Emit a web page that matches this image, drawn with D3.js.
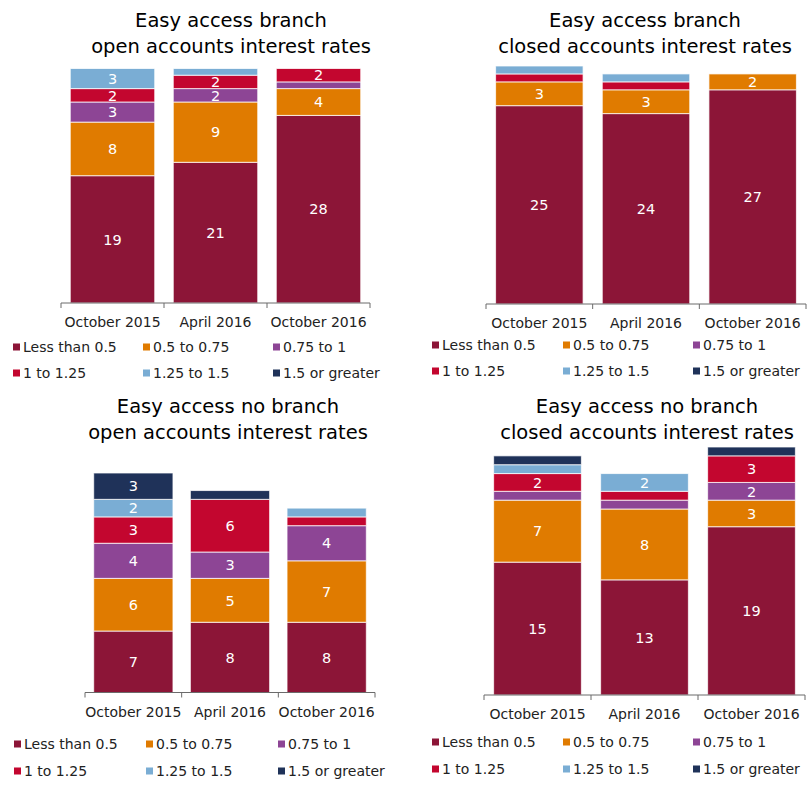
<!DOCTYPE html>
<html>
<head>
<meta charset="utf-8">
<script src="https://cdn.jsdelivr.net/npm/d3@7"></script>
<style>
    body { margin: 0; background: #fff; }
    text { font-family: "DejaVu Sans", Verdana, sans-serif; }
</style>
</head>
<body>
<script>

var periods = ["October 2015", "April 2016", "October 2016"];
var rateBands = ["Less than 0.5", "0.5 to 0.75", "0.75 to 1", "1 to 1.25", "1.25 to 1.5", "1.5 or greater"];
var bandColours = ["#8C1537", "#E07B00", "#8D4595", "#C3062F", "#7AADD4", "#1F3259"];

// one row per period, one value per rate band
var branchOpen = [[19, 8, 3, 2, 3, 0], [21, 9, 2, 2, 1, 0], [28, 4, 1, 2, 0, 0]];
var branchClosed = [[25, 3, 0, 1, 1, 0], [24, 3, 0, 1, 1, 0], [27, 2, 0, 0, 0, 0]];
var noBranchOpen = [[7, 6, 4, 3, 2, 3], [8, 5, 3, 6, 0, 1], [8, 7, 4, 1, 1, 0]];
var noBranchClosed = [[15, 7, 1, 2, 1, 1], [13, 8, 1, 1, 2, 0], [19, 3, 2, 3, 0, 1]];

var svg = d3.select("body").append("svg")
    .attr("width", 812)
    .attr("height", 789);

var panels = [
    {data: branchOpen, title: ["Easy access branch", "open accounts interest rates"], titleX: 231, titleY: 27,
     left: 61, right: 370, base: 303, top: 68.5, labelY: 327, legendX: [13, 143, 273], legendY: [347, 373]},
    {data: branchClosed, title: ["Easy access branch", "closed accounts interest rates"], titleX: 645, titleY: 27,
     left: 486, right: 806, base: 304, top: 66, labelY: 328, legendX: [432, 563, 693], legendY: [345, 371]},
    {data: noBranchOpen, title: ["Easy access no branch", "open accounts interest rates"], titleX: 228, titleY: 413,
     left: 85, right: 375, base: 692.5, top: 473, labelY: 717, legendX: [14, 146, 278], legendY: [744, 771]},
    {data: noBranchClosed, title: ["Easy access no branch", "closed accounts interest rates"], titleX: 647, titleY: 413,
     left: 484, right: 805, base: 695, top: 447, labelY: 719, legendX: [432, 563, 693], legendY: [742, 769]}
];

function drawPanel(p){

    var g = svg.append("g");

    g.append("text")
        .attr("x", p.titleX)
        .attr("y", p.titleY)
        .attr("text-anchor", "middle")
        .style("font-size", "19.5px")
        .style("fill", "#000")
        .selectAll("tspan")
        .data(p.title)
        .enter().append("tspan")
        .attr("x", p.titleX)
        .attr("dy", function(d, i){ return i == 0 ? 0 : 26; })
        .text(function(d){ return d; });

    var maxTotal = d3.max(p.data, function(row){ return d3.sum(row); });

    var x = d3.scaleBand()
        .domain(periods)
        .range([p.left, p.right])
        .paddingInner(0.18)
        .paddingOuter(0.09);

    var y = d3.scaleLinear()
        .domain([0, maxTotal])
        .range([p.base, p.top]);

    var stack = d3.stack().keys(d3.range(rateBands.length));
    var series = stack(p.data);

    var layers = g.selectAll("g.layer")
        .data(series)
        .enter().append("g")
        .attr("class", "layer")
        .attr("fill", function(d){ return bandColours[d.key]; });

    layers.selectAll("rect")
        .data(function(d){ return d.filter(function(s){ return s[1] > s[0]; }); })
        .enter().append("rect")
        .attr("x", function(d){ return x(periods[p.data.indexOf(d.data)]); })
        .attr("width", x.bandwidth())
        .attr("y", function(d){ return y(d[1]); })
        .attr("height", function(d){ return y(d[0]) - y(d[1]); })
        .attr("stroke", "#fff")
        .attr("stroke-opacity", 0.75)
        .attr("stroke-width", 1);

    // values of 2 or more get a label in the middle of the segment
    layers.selectAll("text")
        .data(function(d){ return d.filter(function(s){ return s[1] - s[0] >= 2; }); })
        .enter().append("text")
        .attr("x", function(d){ return x(periods[p.data.indexOf(d.data)]) + x.bandwidth() / 2; })
        .attr("y", function(d){ return (y(d[0]) + y(d[1])) / 2; })
        .attr("dy", "0.36em")
        .attr("text-anchor", "middle")
        .style("font-size", "14.5px")
        .style("fill", "#fff")
        .text(function(d){ return d[1] - d[0]; });

    // category axis, ticks sit between the bars
    var axis = g.append("g");
    axis.append("line")
        .attr("x1", p.left).attr("x2", p.right)
        .attr("y1", p.base).attr("y2", p.base)
        .attr("stroke", "#6b6b6b");

    var edges = d3.range(periods.length + 1).map(function(i){ return p.left + i * x.step(); });
    axis.selectAll("line.tick")
        .data(edges)
        .enter().append("line")
        .attr("class", "tick")
        .attr("x1", function(d){ return d; }).attr("x2", function(d){ return d; })
        .attr("y1", p.base).attr("y2", p.base + 5)
        .attr("stroke", "#6b6b6b");

    axis.selectAll("text")
        .data(periods)
        .enter().append("text")
        .attr("x", function(d){ return x(d) + x.bandwidth() / 2; })
        .attr("y", p.labelY)
        .attr("text-anchor", "middle")
        .style("font-size", "14px")
        .style("fill", "#222")
        .text(function(d){ return d; });

    var legend = g.selectAll("g.legend")
        .data(rateBands)
        .enter().append("g")
        .attr("class", "legend")
        .attr("transform", function(d, i){
            return "translate(" + p.legendX[i % 3] + "," + p.legendY[Math.floor(i / 3)] + ")";
        });

    legend.append("rect")
        .attr("x", 0)
        .attr("y", -3.5)
        .attr("width", 7)
        .attr("height", 7)
        .attr("fill", function(d, i){ return bandColours[i]; });

    legend.append("text")
        .attr("x", 10)
        .attr("y", 0)
        .attr("dy", "0.36em")
        .style("font-size", "14px")
        .style("fill", "#222")
        .text(function(d){ return d; });
}

panels.forEach(drawPanel);

</script>
</body>
</html>
